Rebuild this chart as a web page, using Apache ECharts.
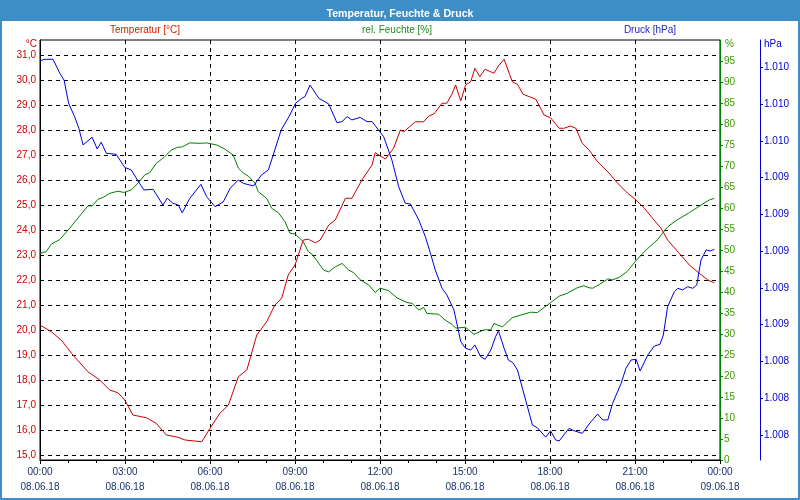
<!DOCTYPE html>
<html>
<head>
<meta charset="utf-8">
<script src="https://cdn.jsdelivr.net/npm/echarts@6/dist/echarts.min.js"></script>
<style>
html,body{margin:0;padding:0;background:#fff;}
#chart{width:800px;height:500px;}
</style>
</head>
<body>
<div id="chart"></div>
<script>
// ---- Data ----
const hoursT = [0,0.40,0.75,1.11,1.69,2.11,2.46,2.75,2.99,3.28,3.75,4.10,4.46,4.87,5.12,5.71,6.0,6.35,6.65,7.0,7.30,7.65,8.0,8.29,8.53,8.76,9.0,9.29,9.47,9.72,9.89,10.19,10.42,10.78,11.01,11.36,11.72,11.83,12.19,12.48,12.72,12.84,13.25,13.54,13.72,13.90,14.19,14.36,14.54,14.67,14.85,15.02,15.20,15.35,15.52,15.71,16.02,16.18,16.38,16.67,16.85,17.05,17.50,17.79,18.02,18.32,18.49,18.73,18.91,19.14,19.38,19.68,20.09,20.39,20.74,21.04,21.33,21.62,21.92,22.15,22.56,22.92,23.27,23.57,23.80];
const temperature = [20.2,19.93,19.6,19.07,18.33,18.0,17.6,17.49,17.2,16.6,16.49,16.27,15.8,15.71,15.6,15.53,16.07,16.67,17.0,18.13,18.4,19.8,20.33,21.0,21.27,22.2,22.6,23.6,23.63,23.49,23.6,24.2,24.4,25.27,25.27,26.0,26.6,27.09,26.84,27.27,28.0,27.93,28.33,28.33,28.56,28.64,29.07,29.07,29.44,29.8,29.16,29.8,29.93,30.47,30.13,30.43,30.27,30.56,30.83,29.93,29.83,29.43,29.23,28.6,28.49,28.07,28.07,28.16,28.07,27.47,27.2,26.73,26.27,25.87,25.47,25.2,24.87,24.47,24.07,23.6,23.07,22.6,22.27,22.0,21.89];

const hoursH = [0,0.22,0.40,0.70,1.05,1.40,1.69,1.84,2.05,2.22,2.46,2.75,2.96,3.22,3.46,3.70,3.87,4.10,4.40,4.63,4.87,5.0,5.29,5.65,5.88,6.24,6.53,6.82,7.0,7.18,7.35,7.59,7.70,8.0,8.18,8.41,8.65,8.82,9.0,9.29,9.47,9.60,9.78,10.01,10.19,10.42,10.66,10.90,11.07,11.30,11.60,11.83,12.01,12.31,12.60,12.95,13.13,13.37,13.54,13.66,14.07,14.30,14.54,14.67,15.02,15.32,15.67,15.91,16.02,16.32,16.67,16.97,17.32,17.55,17.91,18.32,18.61,18.96,19.20,19.38,19.51,19.74,20.04,20.21,20.45,20.74,21.04,21.39,21.80,22.15,22.45,22.92,23.33,23.62,23.80];
const humidity = [49.2,49.6,51.4,52.5,55.2,58.1,60.5,60.5,62.1,62.5,63.5,64.0,63.7,64.3,65.9,67.9,68.4,70.6,72.2,73.8,74.5,74.5,75.5,75.4,75.5,75.0,74.0,72.6,69.5,68.3,67.6,65.9,63.9,62.3,59.9,58.9,56.7,54.0,53.8,52.0,49.6,49.0,47.4,45.2,44.8,46.0,46.8,45.2,44.6,42.9,41.7,39.9,40.9,40.3,38.6,37.5,37.3,35.7,36.3,34.9,34.7,33.3,32.3,31.4,31.6,29.9,31.0,31.0,32.5,31.7,33.9,34.5,35.2,35.1,36.9,39.0,39.7,41.0,41.5,41.0,40.9,41.8,43.1,42.9,43.5,45.0,47.5,50.0,52.5,55.5,57.0,58.9,60.7,61.9,62.3];

const hoursP = [0,0.17,0.46,0.70,0.85,1.01,1.22,1.37,1.52,1.84,2.02,2.16,2.34,2.69,2.99,3.22,3.46,3.67,3.99,4.34,4.49,4.69,4.88,5.02,5.29,5.68,5.88,6.18,6.47,6.71,7.0,7.18,7.53,7.82,8.06,8.23,8.51,8.82,9.02,9.24,9.35,9.53,9.84,10.19,10.48,10.66,10.84,11.01,11.30,11.54,11.72,11.95,12.13,12.42,12.66,12.89,13.07,13.37,13.60,13.78,13.95,14.19,14.36,14.54,14.61,14.85,15.02,15.20,15.35,15.55,15.71,15.91,16.08,16.18,16.38,16.53,16.69,16.85,17.14,17.38,17.55,17.85,18.02,18.20,18.32,18.67,18.85,19.14,19.27,19.38,19.68,19.86,20.04,20.21,20.51,20.68,20.86,21.04,21.18,21.45,21.68,21.88,22.0,22.15,22.39,22.51,22.68,22.86,23.04,23.18,23.33,23.51,23.65,23.80];
const pressure = [1010.436,1010.444,1010.444,1010.368,1010.331,1010.205,1010.132,1010.069,1009.978,1010.020,1009.956,1009.993,1009.933,1009.927,1009.856,1009.842,1009.782,1009.733,1009.737,1009.651,1009.688,1009.661,1009.651,1009.609,1009.688,1009.764,1009.697,1009.642,1009.669,1009.742,1009.787,1009.769,1009.755,1009.815,1009.842,1009.923,1010.059,1010.141,1010.205,1010.232,1010.241,1010.304,1010.232,1010.201,1010.099,1010.105,1010.132,1010.114,1010.128,1010.105,1010.105,1010.059,1010.023,1009.896,1009.751,1009.661,1009.657,1009.570,1009.479,1009.389,1009.298,1009.198,1009.162,1009.103,1009.080,1008.908,1008.872,1008.862,1008.890,1008.826,1008.812,1008.862,1008.935,1008.967,1008.872,1008.808,1008.793,1008.754,1008.590,1008.454,1008.440,1008.388,1008.423,1008.373,1008.367,1008.436,1008.423,1008.409,1008.436,1008.460,1008.514,1008.482,1008.482,1008.572,1008.681,1008.763,1008.808,1008.812,1008.748,1008.835,1008.884,1008.893,1008.944,1009.098,1009.180,1009.198,1009.189,1009.207,1009.198,1009.216,1009.352,1009.407,1009.401,1009.410];

const tempTicks = [15,16,17,18,19,20,21,22,23,24,25,26,27,28,29,30,31];
const humidityTicks = [0,5,10,15,20,25,30,35,40,45,50,55,60,65,70,75,80,85,90,95];
const pressureTicks = [1008.4,1008.6,1008.8,1009.0,1009.2,1009.4,1009.6,1009.8,1010.0,1010.2,1010.4];
const timeTicks = [0,3,6,9,12,15,18,21,24];
const timeLabels = ['00:00\n08.06.18','03:00\n08.06.18','06:00\n08.06.18','09:00\n08.06.18','12:00\n08.06.18','15:00\n08.06.18','18:00\n08.06.18','21:00\n08.06.18','00:00\n09.06.18'];

const titleText = 'Temperatur, Feuchte & Druck';
const seriesNames = ['Temperatur [°C]', 'rel. Feuchte [%]', 'Druck [hPa]'];

// ---- Chart ----
const FONT = 'Liberation Sans';
const zip = (a, b) => a.map((v, i) => [v, b[i]]);
const chart = echarts.init(document.getElementById('chart'), null, {renderer: 'canvas'});

const option = {
  animation: false,
  backgroundColor: '#ffffff',
  textStyle: {fontFamily: FONT},
  title: {
    text: titleText,
    left: 'center',
    top: 4,
    z: 20,
    textStyle: {color: '#ffffff', fontSize: 10.6, fontWeight: 'bold', fontFamily: FONT}
  },
  graphic: [
    {type: 'rect', z: 0, silent: true, shape: {x: 0, y: 0, width: 800, height: 21}, style: {fill: '#3d8ec7'}},
    {type: 'rect', z: 0, silent: true, shape: {x: 1, y: 1, width: 798, height: 498}, style: {fill: null, stroke: '#3d8ec7', lineWidth: 2}},
    {type: 'text', x: 145, y: 30, style: {text: seriesNames[0], fill: '#cc2200', font: '10px "Liberation Sans"', textAlign: 'center', textVerticalAlign: 'middle'}},
    {type: 'text', x: 397, y: 30, style: {text: seriesNames[1], fill: '#228822', font: '10px "Liberation Sans"', textAlign: 'center', textVerticalAlign: 'middle'}},
    {type: 'text', x: 650, y: 30, style: {text: seriesNames[2], fill: '#2222cc', font: '10px "Liberation Sans"', textAlign: 'center', textVerticalAlign: 'middle'}}
  ],
  grid: {
    left: 40, right: 80, top: 40, bottom: 40,
    show: true, borderColor: '#000', borderWidth: 1, backgroundColor: 'transparent'
  },
  xAxis: {
    type: 'value',
    min: 0, max: 24, interval: 3,
    axisLine: {show: true, lineStyle: {color: '#000', width: 1}},
    axisTick: {show: true, length: 4, lineStyle: {color: '#000'}},
    minorTick: {show: true, splitNumber: 3, length: 3, lineStyle: {color: '#000'}},
    splitLine: {show: true, lineStyle: {color: '#000', width: 1, type: [4, 4]}},
    axisLabel: {
      color: '#1a3366', fontSize: 10, fontFamily: FONT, lineHeight: 15, margin: 5,
      formatter: v => timeLabels[timeTicks.indexOf(Math.round(v))] || ''
    }
  },
  yAxis: [
    {
      type: 'value', position: 'left',
      min: 14.8, max: 31.6,
      name: '°C', nameLocation: 'end', nameGap: -4,
      nameTextStyle: {color: '#cc0000', fontSize: 10, fontFamily: FONT, align: 'right', verticalAlign: 'middle', padding: [0, 3, 0, 0]},
      axisLine: {show: true, lineStyle: {color: '#000', width: 1}},
      axisTick: {show: false, customValues: tempTicks},
      splitLine: {show: true, lineStyle: {color: '#000', width: 1, type: [4, 4]}},
      axisLabel: {
        customValues: tempTicks, color: '#cc0000', fontSize: 10, fontFamily: FONT, margin: 4,
        formatter: v => v.toFixed(1).replace('.', ',')
      }
    },
    {
      type: 'value', position: 'right',
      min: 0, max: 100,
      name: '%', nameLocation: 'end', nameGap: -4,
      nameTextStyle: {color: '#3c9600', fontSize: 10, fontFamily: FONT, align: 'left', verticalAlign: 'middle', padding: [0, 0, 0, 5]},
      axisLine: {show: true, lineStyle: {color: '#008000', width: 1}},
      axisTick: {show: true, length: 3, customValues: humidityTicks, lineStyle: {color: '#008000'}},
      splitLine: {show: false},
      axisLabel: {customValues: humidityTicks, color: '#3c9600', fontSize: 10, fontFamily: FONT, margin: 4}
    },
    {
      type: 'value', position: 'right', offset: 40,
      min: 1008.264, max: 1010.549,
      name: 'hPa', nameLocation: 'end', nameGap: -4,
      nameTextStyle: {color: '#0000cc', fontSize: 10, fontFamily: FONT, align: 'left', verticalAlign: 'middle', padding: [0, 0, 0, 4]},
      axisLine: {show: true, lineStyle: {color: '#0000cc', width: 1}},
      axisTick: {show: true, length: 3, customValues: pressureTicks, lineStyle: {color: '#0000cc'}},
      splitLine: {show: false},
      axisLabel: {
        customValues: pressureTicks, color: '#0000cc', fontSize: 10, fontFamily: FONT, margin: 4,
        formatter: v => Math.floor(v + 1e-6).toLocaleString('de-DE')
      }
    }
  ],
  series: [
    {
      name: seriesNames[1], type: 'line', yAxisIndex: 1,
      data: zip(hoursH, humidity), symbol: 'none', showSymbol: false,
      lineStyle: {color: '#008000', width: 1}, itemStyle: {color: '#008000'}
    },
    {
      name: seriesNames[0], type: 'line', yAxisIndex: 0,
      data: zip(hoursT, temperature), symbol: 'none', showSymbol: false,
      lineStyle: {color: '#cc0000', width: 1}, itemStyle: {color: '#cc0000'}
    },
    {
      name: seriesNames[2], type: 'line', yAxisIndex: 2,
      data: zip(hoursP, pressure), symbol: 'none', showSymbol: false,
      lineStyle: {color: '#0000dd', width: 1}, itemStyle: {color: '#0000dd'}
    }
  ]
};
chart.setOption(option);
</script>
</body>
</html>
